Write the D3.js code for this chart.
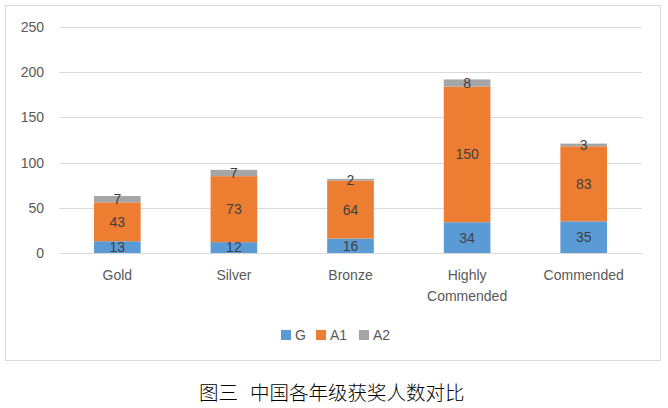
<!DOCTYPE html>
<html><head><meta charset="utf-8">
<script src="https://cdn.jsdelivr.net/npm/d3@7"></script>
<style>body{margin:0;background:#fff}svg text{font-family:"Liberation Sans",Arial,sans-serif}</style>
</head><body>
<svg id="c" width="668" height="408"></svg>
<script>
const categories = ["Gold","Silver","Bronze","Highly Commended","Commended"];
const seriesNames = ["G","A1","A2"];
const G  = [13,12,16,34,35];
const A1 = [43,73,64,150,83];
const A2 = [7,7,2,8,3];
const yTicks = [0,50,100,150,200,250];
const colors = ["#5b9bd5","#ed7d31","#a5a5a5"];
const captionParts = ["图三","中国各年级获奖人数对比"];

const svg = d3.select("#c");
svg.append("rect").attr("x",5.5).attr("y",5.5).attr("width",655).attr("height",355)
  .attr("fill","#fff").attr("stroke","#d9d9d9");

const x = d3.scaleBand().domain(categories).range([59,642]).paddingInner(0.6).paddingOuter(0.3);
const y = d3.scaleLinear().domain([0,250]).range([253,27]);

svg.append("g").selectAll("line").data(yTicks).join("line")
  .attr("x1",59).attr("x2",642).attr("y1",d=>Math.round(y(d))+0.5).attr("y2",d=>Math.round(y(d))+0.5)
  .attr("stroke","#d9d9d9");
svg.append("g").selectAll("text").data(yTicks).join("text")
  .attr("x",44).attr("y",d=>y(d)).attr("dy","0.35em").attr("text-anchor","end")
  .attr("font-size",14).attr("fill","#595959").text(d=>d);

const data = categories.map((c,i)=>({cat:c,G:G[i],A1:A1[i],A2:A2[i]}));
const stack = d3.stack().keys(seriesNames)(data);
stack.forEach((s,si)=>{
  const g = svg.append("g");
  g.selectAll("rect").data(s).join("rect")
    .attr("x",d=>x(d.data.cat)).attr("width",x.bandwidth())
    .attr("y",d=>y(d[1])).attr("height",d=>y(d[0])-y(d[1]))
    .attr("fill",colors[si]);
  g.selectAll("text").data(s).join("text")
    .attr("x",d=>x(d.data.cat)+x.bandwidth()/2).attr("y",d=>(y(d[0])+y(d[1]))/2)
    .attr("dy","0.35em").attr("text-anchor","middle").attr("font-size",14).attr("fill","#404040")
    .text(d=>d[1]-d[0]);
});

const xl = svg.append("g").selectAll("text").data(categories).join("text")
  .attr("x",d=>x(d)+x.bandwidth()/2).attr("y",280).attr("text-anchor","middle")
  .attr("font-size",14).attr("fill","#595959");
xl.each(function(d){
  const words = d.split(" ");
  const t = d3.select(this);
  words.forEach((w,i)=>t.append("tspan").attr("x",x(d)+x.bandwidth()/2).attr("dy",i?21:0).text(w));
});

const lx = [281,316,359];
const lg = svg.append("g").selectAll("g").data(seriesNames).join("g")
  .attr("transform",(d,i)=>`translate(${lx[i]},330)`);
lg.append("rect").attr("width",10).attr("height",10).attr("fill",(d,i)=>colors[i]);
lg.append("text").attr("x",14).attr("y",5).attr("dy","0.35em").attr("font-size",14).attr("fill","#595959").text(d=>d);

const cap = svg.append("text").attr("y",393).attr("dy","0.35em")
  .attr("font-size",19.5).attr("font-weight",300).attr("fill","#000")
  .style("font-family","'Noto Sans CJK SC',sans-serif");
cap.append("tspan").attr("x",199).text(captionParts[0]);
cap.append("tspan").attr("x",250).text(captionParts[1]);
</script>
</body></html>
